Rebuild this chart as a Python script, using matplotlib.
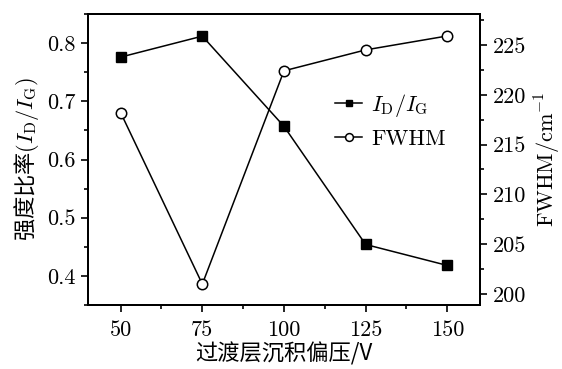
import matplotlib
matplotlib.use("Agg")
import matplotlib.pyplot as plt
from matplotlib.ticker import MultipleLocator

plt.rcParams["mathtext.fontset"] = "cm"
plt.rcParams["font.family"] = ["cmr10", "Noto Sans CJK SC", "DejaVu Sans"]
plt.rcParams["axes.unicode_minus"] = False

bias = [50, 75, 100, 125, 150]
id_ig = [0.776, 0.812, 0.657, 0.454, 0.418]
fwhm = [218.2, 201.0, 222.4, 224.5, 225.9]

fig = plt.figure(figsize=(5.62, 3.69), dpi=100)
ax = fig.add_axes([0.1566, 0.1734, 0.6974, 0.7886])
ax2 = ax.twinx()

l1, = ax.plot(bias, id_ig, color="black", lw=1.1, marker="s", ms=6.5,
              mfc="black", mec="black", label=r"$I_{\rm D}/I_{\rm G}$")
l2, = ax2.plot(bias, fwhm, color="black", lw=1.1, marker="o", ms=7.5,
               mfc="white", mec="black", mew=1.1, label="FWHM")

ax.set_xlim(40, 160)
ax.set_ylim(0.35, 0.85)
ax2.set_ylim(198.9, 228.1)

ax.xaxis.set_major_locator(MultipleLocator(25))
ax.xaxis.set_minor_locator(MultipleLocator(12.5))
ax.yaxis.set_major_locator(MultipleLocator(0.1))
ax.yaxis.set_minor_locator(MultipleLocator(0.05))
ax2.yaxis.set_major_locator(MultipleLocator(5))
ax2.yaxis.set_minor_locator(MultipleLocator(2.5))

for a in (ax, ax2):
    a.tick_params(which="major", direction="out", length=5, width=1.2,
                  labelsize=16, colors="black", pad=4)
    a.tick_params(which="minor", direction="out", length=3, width=1.2)
    for s in a.spines.values():
        s.set_linewidth(1.4)
ax.tick_params(axis="x", which="major", pad=6)

ax.set_yticklabels([f"{v:.1f}" for v in ax.get_yticks()])

ax.set_xlabel("过渡层沉积偏压/V", fontsize=16,
              family=["Noto Sans CJK SC", "DejaVu Sans"], labelpad=2)
ax.set_ylabel(r"强度比率$(I_{\rm D}/I_{\rm G})$", fontsize=16,
              family=["Noto Sans CJK SC", "DejaVu Sans"], labelpad=4)
ax2.set_ylabel(r"FWHM/cm$^{-1}$", fontsize=16, labelpad=5)

ax.legend([l1, l2], [l1.get_label(), l2.get_label()], loc="center left",
          bbox_to_anchor=(0.58, 0.634), frameon=False, fontsize=16,
          handlelength=1.2, handletextpad=0.4, labelspacing=0.45,
          markerscale=0.75)

fig.savefig("out.png", dpi=100)
